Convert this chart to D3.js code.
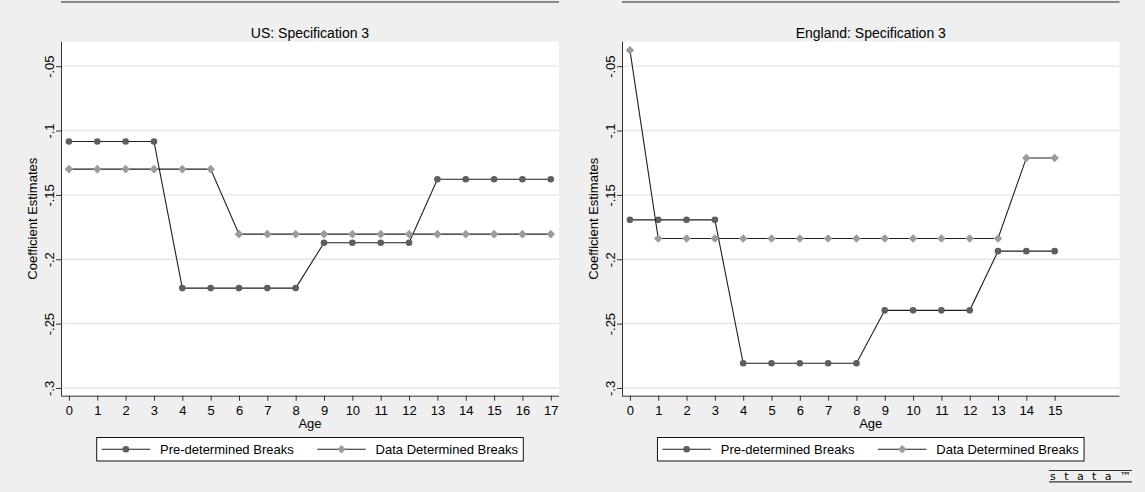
<!DOCTYPE html>
<html>
<head>
<meta charset="utf-8">
<script src="https://cdn.jsdelivr.net/npm/d3@7"></script>
<style>
  html, body { margin: 0; padding: 0; background: #efefef; }
  svg { display: block; }
  text { font-family: "Liberation Sans", Arial, Helvetica, sans-serif; fill: #000; }
</style>
</head>
<body>
<svg id="chart" width="1145" height="492"></svg>
<script>
// ---------- DATA ----------
const usAges   = [0, 1, 2, 3, 4, 5, 6, 7, 8, 9, 10, 11, 12, 13, 14, 15, 16, 17];
const usPre    = [-0.1085, -0.1085, -0.1085, -0.1085, -0.2224, -0.2224, -0.2224, -0.2224, -0.2224,
                  -0.1872, -0.1872, -0.1872, -0.1872, -0.1379, -0.1379, -0.1379, -0.1379, -0.1379];
const usData   = [-0.1300, -0.1300, -0.1300, -0.1300, -0.1300, -0.1300, -0.1805, -0.1805, -0.1805,
                  -0.1805, -0.1805, -0.1805, -0.1805, -0.1805, -0.1805, -0.1805, -0.1805, -0.1805];
const engAges  = [0, 1, 2, 3, 4, 5, 6, 7, 8, 9, 10, 11, 12, 13, 14, 15];
const engPre   = [-0.1694, -0.1694, -0.1694, -0.1694, -0.2808, -0.2808, -0.2808, -0.2808, -0.2808,
                  -0.2397, -0.2397, -0.2397, -0.2397, -0.1937, -0.1937, -0.1937];
const engData  = [-0.0376, -0.1839, -0.1839, -0.1839, -0.1839, -0.1839, -0.1839, -0.1839, -0.1839,
                  -0.1839, -0.1839, -0.1839, -0.1839, -0.1839, -0.1213, -0.1213];
const usXTicks  = [0, 1, 2, 3, 4, 5, 6, 7, 8, 9, 10, 11, 12, 13, 14, 15, 16, 17];
const engXTicks = [0, 1, 2, 3, 4, 5, 6, 7, 8, 9, 10, 11, 12, 13, 14, 15];
const yTicks    = [-0.3, -0.25, -0.2, -0.15, -0.1, -0.05];
const yTickLabels = ["-.3", "-.25", "-.2", "-.15", "-.1", "-.05"];
const titles    = ["US: Specification 3", "England: Specification 3"];
const seriesNames = ["Pre-determined Breaks", "Data Determined Breaks"];
const xTitle = "Age";
const yTitle = "Coefficient Estimates";

// ---------- LAYOUT ----------
const svg = d3.select("#chart");
const W = 1145, H = 492;
svg.append("rect").attr("width", W).attr("height", H).attr("fill", "#efefef");

const plotTop = 41.7, plotBottom = 395.7;
const panels = [
  { x0: 61,  x1: 559,   title: titles[0], ages: usAges,  pre: usPre,  dat: usData,  ticks: usXTicks },
  { x0: 622, x1: 1119.5, title: titles[1], ages: engAges, pre: engPre, dat: engData, ticks: engXTicks }
];

const preColor = "#5e5e5e", datColor = "#9c9c9c", lineColor = "#1e1e1e";

function drawDiamond(g, x, y) {
  const s = 4.3;
  g.append("path")
    .attr("d", `M${x},${y - s}L${x + s},${y}L${x},${y + s}L${x - s},${y}Z`)
    .attr("fill", datColor);
}

panels.forEach(p => {
  const g = svg.append("g");
  const x = d3.scaleLinear().domain([-0.28, 17.29]).range([p.x0, p.x1]);
  const y = d3.scaleLinear().domain([-0.306, -0.031]).range([plotBottom, plotTop]);

  // top rule
  g.append("line").attr("x1", p.x0).attr("x2", p.x1).attr("y1", 2).attr("y2", 2)
    .attr("stroke", "#222").attr("stroke-width", 1.2);

  // title
  g.append("text").attr("x", (p.x0 + p.x1) / 2).attr("y", 37.5)
    .attr("text-anchor", "middle").style("font-size", "14px").text(p.title);

  // plot region
  g.append("rect").attr("x", p.x0).attr("y", plotTop)
    .attr("width", p.x1 - p.x0).attr("height", plotBottom - plotTop).attr("fill", "#fff");

  // gridlines
  g.selectAll(".grid").data(yTicks).enter().append("line")
    .attr("x1", p.x0).attr("x2", p.x1)
    .attr("y1", d => y(d)).attr("y2", d => y(d))
    .attr("stroke", "#e6e6e6").attr("stroke-width", 1.3);

  // y axis
  const yAxis = d3.axisLeft(y).tickValues(yTicks)
    .tickFormat((d, i) => yTickLabels[i]).tickSize(5).tickSizeOuter(0);
  const ya = g.append("g").attr("transform", `translate(${p.x0},0)`).call(yAxis);
  ya.select(".domain").attr("d", `M0.5,${plotTop}V${plotBottom}`).attr("stroke", "#333");
  ya.selectAll(".tick line").attr("stroke", "#333");
  ya.selectAll(".tick text")
    .attr("x", null).attr("dy", null)
    .attr("transform", "translate(-12,0) rotate(-90)")
    .attr("text-anchor", "middle").attr("dy", "0.35em")
    .style("font-size", "13px").style("font-family", "'Liberation Sans', Arial, sans-serif")
    .attr("fill", "#000");

  // x axis
  const xAxis = d3.axisBottom(x).tickValues(p.ticks).tickFormat(d3.format("d"))
    .tickSize(5).tickSizeOuter(0).tickPadding(5);
  const xa = g.append("g").attr("transform", `translate(0,${plotBottom})`).call(xAxis);
  xa.select(".domain").attr("d", `M${p.x0},0.5H${p.x1}`).attr("stroke", "#333");
  xa.selectAll(".tick line").attr("stroke", "#333");
  xa.selectAll(".tick text").style("font-size", "13px")
    .style("font-family", "'Liberation Sans', Arial, sans-serif").attr("fill", "#000");

  // axis titles
  g.append("text").attr("x", (p.x0 + p.x1) / 2).attr("y", 428)
    .attr("text-anchor", "middle").style("font-size", "13px").text(xTitle);
  g.append("text")
    .attr("transform", `translate(${p.x0 - 29},${(plotTop + plotBottom) / 2}) rotate(-90)`)
    .attr("text-anchor", "middle").attr("dy", "0.35em")
    .style("font-size", "13px").text(yTitle);

  // series lines
  const line = d3.line().x(d => x(d[0])).y(d => y(d[1]));
  const prePts = p.ages.map((a, i) => [a, p.pre[i]]);
  const datPts = p.ages.map((a, i) => [a, p.dat[i]]);

  g.append("path").attr("d", line(prePts)).attr("fill", "none")
    .attr("stroke", lineColor).attr("stroke-width", 1.1);
  g.selectAll(".pre").data(prePts).enter().append("circle")
    .attr("cx", d => x(d[0])).attr("cy", d => y(d[1])).attr("r", 3.3).attr("fill", preColor);

  g.append("path").attr("d", line(datPts)).attr("fill", "none")
    .attr("stroke", lineColor).attr("stroke-width", 1.1);
  datPts.forEach(d => drawDiamond(g, x(d[0]), y(d[1])));

  // legend
  const cx = (p.x0 + p.x1) / 2;
  const lw = 426.6, lx = cx - lw / 2, ly = 437.5, lh = 23.5;
  g.append("rect").attr("x", lx).attr("y", ly).attr("width", lw).attr("height", lh)
    .attr("fill", "#fff").attr("stroke", "#111").attr("stroke-width", 1);
  const my = ly + lh / 2;
  const items = [
    { off: 5,     name: seriesNames[0], type: "circle" },
    { off: 220.6, name: seriesNames[1], type: "diamond" }
  ];
  items.forEach(it => {
    g.append("line").attr("x1", lx + it.off).attr("x2", lx + it.off + 48.4)
      .attr("y1", my).attr("y2", my).attr("stroke", lineColor).attr("stroke-width", 1.1);
    if (it.type === "circle") {
      g.append("circle").attr("cx", lx + it.off + 24.2).attr("cy", my).attr("r", 3.3).attr("fill", preColor);
    } else {
      drawDiamond(g, lx + it.off + 24.2, my);
    }
    g.append("text").attr("x", lx + it.off + 58.3).attr("y", my).attr("dy", "0.35em")
      .style("font-size", "13px").text(it.name);
  });
});

// stata logo
const logo = svg.append("g");
logo.append("line").attr("x1", 1049).attr("x2", 1132).attr("y1", 470.5).attr("y2", 470.5)
  .attr("stroke", "#333").attr("stroke-width", 1);
logo.append("line").attr("x1", 1049).attr("x2", 1132).attr("y1", 481.8).attr("y2", 481.8)
  .attr("stroke", "#333").attr("stroke-width", 1.2);
logo.append("text").attr("x", 1050).attr("y", 479.8)
  .attr("textLength", 81).attr("lengthAdjust", "spacing")
  .style("font-size", "11px").style("font-family", "'DejaVu Sans', sans-serif")
  .attr("fill", "#222").text("stata™");
</script>
</body>
</html>
